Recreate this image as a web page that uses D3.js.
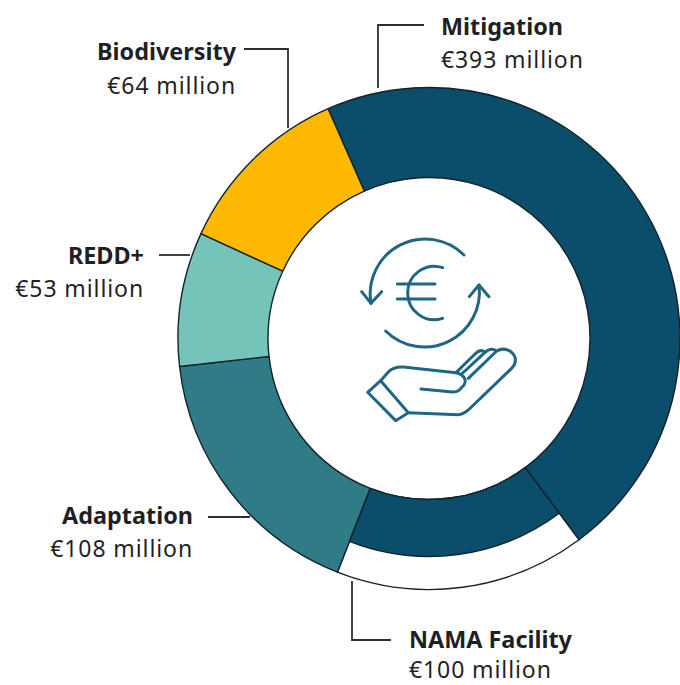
<!DOCTYPE html>
<html><head><meta charset="utf-8">
<style>html,body{margin:0;padding:0;background:#fff}svg{display:block}</style>
<script src="https://cdn.jsdelivr.net/npm/d3@7"></script>
</head><body><svg id="c" width="680" height="685"></svg>
<script>
// Data: categories and the amounts printed on the labels (EUR million)
const categories = ["Mitigation", "NAMA Facility", "Adaptation", "REDD+", "Biodiversity"];
const amounts = [393, 100, 108, 53, 64];
// Arc sizes (degrees); the reference's slices are not
// strictly proportional to its labels, and NAMA is drawn as a sub-part of Mitigation.
const arcSizes = [167.0, 58.1, 62.2, 31.1, 41.6];

// Layout and style, kept apart from the data
const colours = ["#0a4e6c", "#0a4e6c", "#2f7b86", "#74c4ba", "#fdb900"];
const labelLayout = [
  {anchor:"start", x:441, y1:35,  y2:68},
  {anchor:"start", x:409, y1:648, y2:678},
  {anchor:"end",   x:193, y1:524, y2:557},
  {anchor:"end",   x:144, y1:264, y2:297},
  {anchor:"end",   x:236, y1:60,  y2:94}
];
const leaders = [
  [[378,88],[378,25],[424,25]],
  [[352,581],[352,640],[391,640]],
  [[208,517],[250,517]],
  [[159,255],[190,255]],
  [[244,49],[288,49],[288,128]]
];
const cx = 429, cy = 338.5, rOuter = 251, rInner = 161, rNama = 218;
const fontFamily = "'Noto Sans', Lato, sans-serif";

const svg = d3.select("#c");
const deg = Math.PI / 180;
const pie = d3.pie().sort(null).value(d => d.size)
  .startAngle(-23.7 * deg).endAngle(336.3 * deg);
const rows = categories.map((name, i) => ({name, amount: amounts[i], size: arcSizes[i], colour: colours[i], layout: labelLayout[i], leader: leaders[i]}));
const arcs = pie(rows);

const g = svg.append("g").attr("transform", `translate(${cx},${cy})`);
const arc = d3.arc().innerRadius(rInner).outerRadius(rOuter);
const namaArc = d3.arc().innerRadius(rInner).outerRadius(rNama);

g.selectAll("path.slice").data(arcs).join("path")
  .attr("class", "slice")
  .attr("d", d => arc(d))
  .attr("fill", d => d.data.name === "NAMA Facility" ? "#fff" : d.data.colour)
  .attr("stroke", "#14222a").attr("stroke-width", 1.4).attr("stroke-linejoin", "round");
g.selectAll("path.nama").data(arcs.filter(d => d.data.name === "NAMA Facility")).join("path")
  .attr("class", "nama")
  .attr("d", d => namaArc(d))
  .attr("fill", d => d.data.colour)
  .attr("stroke", "#14222a").attr("stroke-width", 1.4).attr("stroke-linejoin", "round");

const line = d3.line();
svg.selectAll("path.leader").data(rows).join("path")
  .attr("class", "leader")
  .attr("d", d => line(d.leader))
  .attr("fill", "none").attr("stroke", "#2e2e2e").attr("stroke-width", 1.8);

const labels = svg.selectAll("g.label").data(rows).join("g").attr("class", "label")
  .attr("font-family", fontFamily).attr("fill", "#1f1f26")
  .attr("text-anchor", d => d.layout.anchor);
labels.append("text").attr("x", d => d.layout.x).attr("y", d => d.layout.y1)
  .attr("font-size", 23.4).attr("font-weight", 700).text(d => d.name);
labels.append("text").attr("x", d => d.layout.x).attr("y", d => d.layout.y2)
  .attr("font-size", 23).attr("letter-spacing", 0.9).text(d => `€${d.amount} million`);

// Centre icon
const icon = svg.append("g").attr("transform", "translate(340,220) scale(0.3333)")
  .attr("fill", "none").attr("stroke", "#1f6684").attr("stroke-width", 9)
  .attr("stroke-linecap", "round").attr("stroke-linejoin", "round");
[
  "M372,105 A165,165 0 0 0 93,250",
  "M65,215 L93,250 L125,215",
  "M137,333 A165,165 0 0 0 417,195",
  "M388,230 L417,195 L447,230",
  "M308,143 A80,80 0 1 0 308,295",
  "M172,192 L285,192",
  "M172,237 L285,237",
  "M83,517 L122,482 L205,578 L167,602 Z",
  "M122,482 L145,456 C155,445 170,440 190,441 L348,458 C370,462 382,480 372,495 L358,510 C352,516 345,516 338,516 L243,507",
  "M205,578 L355,584 C368,584 376,578 385,570 L515,445 C530,430 530,410 515,397 C500,385 485,385 470,393 L385,475",
  "M470,393 C458,385 445,387 435,397 L365,462",
  "M435,397 C425,388 415,392 405,402 L348,458"
].forEach(d => icon.append("path").attr("d", d));
</script></body></html>
